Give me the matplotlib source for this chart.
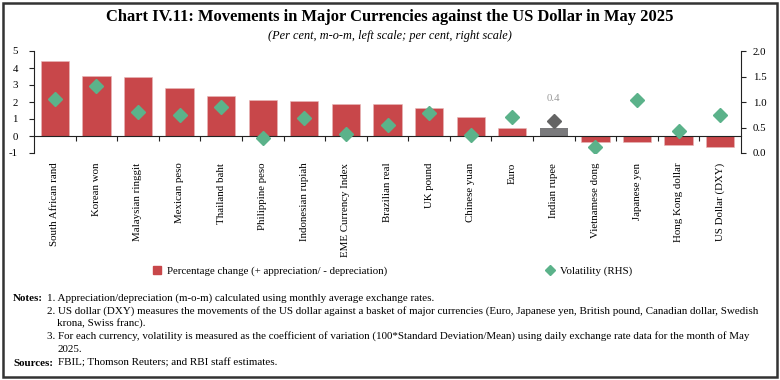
import matplotlib
matplotlib.use("Agg")
import matplotlib.pyplot as plt
from matplotlib.patches import Rectangle
from matplotlib.lines import Line2D
from matplotlib.transforms import blended_transform_factory

categories = ["South African rand", "Korean won", "Malaysian ringgit", "Mexican peso",
              "Thailand baht", "Philippine peso", "Indonesian rupiah", "EME Currency Index",
              "Brazilian real", "UK pound", "Chinese yuan", "Euro", "Indian rupee",
              "Vietnamese dong", "Japanese yen", "Hong Kong dollar", "US Dollar (DXY)"]
pct_change = [4.39, 3.52, 3.46, 2.85, 2.33, 2.11, 2.06, 1.90, 1.86, 1.64, 1.13, 0.47, 0.47,
              -0.34, -0.36, -0.51, -0.65]
volatility = [1.06, 1.31, 0.80, 0.74, 0.90, 0.30, 0.68, 0.37, 0.55, 0.79, 0.36, 0.70, 0.63,
              0.11, 1.04, 0.43, 0.74]
highlight = "Indian rupee"
highlight_label = "0.4"
left_ticks = [-1, 0, 1, 2, 3, 4, 5]
right_ticks = [0.0, 0.5, 1.0, 1.5, 2.0]

RED = "#C8474A"
GREEN = "#5BB28A"
GRAY_BAR = "#7A7A7C"
GRAY_DOT = "#646464"
FONT = "Liberation Serif"

plt.rcParams["font.family"] = FONT

W, H = 780, 380
fig = plt.figure(figsize=(W / 100, H / 100), dpi=100)

def fx(px):
    return px / W

def fy(py):
    return 1 - py / H

ax = fig.add_axes([fx(34), fy(153), fx(741) - fx(34), fy(51) - fy(153)])
ax2 = ax.twinx()

x = list(range(len(categories)))
bar_colors = [GRAY_BAR if c == highlight else RED for c in categories]
edge_colors = ["none" if c == highlight else "#E8B8B8" for c in categories]
ax.bar(x, pct_change, width=0.68, color=bar_colors, edgecolor=edge_colors, linewidth=0.4, zorder=2)

dot_colors = [GRAY_DOT if c == highlight else GREEN for c in categories]
for xi, v, c in zip(x, volatility, dot_colors):
    ax2.plot([xi], [v], marker="D", markersize=7, color=c, linestyle="none", zorder=3)
hi = categories.index(highlight)
ax2.annotate(highlight_label, (hi, volatility[hi]), xytext=(0, 13), textcoords="offset points",
             ha="center", va="bottom", fontsize=7.8, color="#9A9A9A")

ax.set_xlim(-0.5, len(categories) - 0.5)
ax.set_ylim(-1, 5)
ax2.set_ylim(0, 2)
ax.set_yticks(left_ticks)
ax.set_yticklabels([str(t) for t in left_ticks], fontsize=7.8)
ax2.set_yticks(right_ticks)
ax2.set_yticklabels([f"{t:.1f}" for t in right_ticks], fontsize=7.8)

for a in (ax, ax2):
    a.spines["top"].set_visible(False)
    a.patch.set_visible(False)
ax.spines["bottom"].set_position(("data", 0))
ax2.spines["bottom"].set_visible(False)
ax.spines["right"].set_visible(False)
ax2.spines["left"].set_visible(False)
for s in (ax.spines["left"], ax.spines["bottom"], ax2.spines["right"]):
    s.set_color("#222222")
    s.set_linewidth(0.8)

ax.set_xticks([i + 0.5 for i in range(len(categories) - 1)])
ax.set_xticklabels([])
ax.tick_params(axis="x", direction="out", length=3.5, width=0.8, color="#222222")
ax.tick_params(axis="y", direction="out", length=3.5, width=0.8, color="#222222", pad=8)
ax2.tick_params(axis="y", direction="out", length=3.5, width=0.8, color="#222222", pad=5)

trans = blended_transform_factory(ax.transData, ax.transAxes)
for xi, c in zip(x, categories):
    ax.text(xi, -0.095, c, transform=trans, rotation=90, ha="center", va="top", fontsize=7.8)

# Title
fig.text(0.5, fy(17), "Chart IV.11: Movements in Major Currencies against the US Dollar in May 2025",
         ha="center", va="center", fontsize=11.9, fontweight="bold")
fig.text(0.5, fy(36), "(Per cent, m-o-m, left scale; per cent, right scale)",
         ha="center", va="center", fontsize=8.8, style="italic")

# Legend
h1 = Line2D([], [], marker="s", color=RED, linestyle="none", markersize=5.5)
h2 = Line2D([], [], marker="D", color=GREEN, linestyle="none", markersize=5)
fig.legend([h1], ["Percentage change (+ appreciation/ - depreciation)"], loc="center left",
           bbox_to_anchor=(fx(153), fy(271)), frameon=False, fontsize=7.8,
           handlelength=0.8, handletextpad=0.5, borderpad=0, borderaxespad=0)
fig.legend([h2], ["Volatility (RHS)"], loc="center left",
           bbox_to_anchor=(fx(546), fy(271)), frameon=False, fontsize=7.8,
           handlelength=0.8, handletextpad=0.5, borderpad=0, borderaxespad=0)

# Notes
NFS = 7.9
BL = 3  # baseline offset in px from line centre
fig.text(fx(13), fy(298 + BL), "Notes:", fontsize=NFS, fontweight="bold", va="baseline")
note_lines = [
    (47, 298, "1. Appreciation/depreciation (m-o-m) calculated using monthly average exchange rates."),
    (47, 311, "2. US dollar (DXY) measures the movements of the US dollar against a basket of major currencies (Euro, Japanese yen, British pound, Canadian dollar, Swedish"),
    (57, 323, "krona, Swiss franc)."),
    (47, 336, "3. For each currency, volatility is measured as the coefficient of variation (100*Standard Deviation/Mean) using daily exchange rate data for the month of May"),
    (57, 349, "2025."),
]
for px, py, t in note_lines:
    fig.text(fx(px), fy(py + BL), t, fontsize=NFS, va="baseline")
fig.text(fx(13), fy(363 + BL), "Sources:", fontsize=NFS, fontweight="bold", va="baseline")
fig.text(fx(58), fy(363 + BL), "FBIL; Thomson Reuters; and RBI staff estimates.", fontsize=NFS, va="baseline")

# Border
fig.patches.append(Rectangle((fx(3), fy(377)), fx(774), 1 - fy(374), transform=fig.transFigure,
                             fill=False, edgecolor="#333333", linewidth=1.8))

fig.savefig("out.png", dpi=100)
